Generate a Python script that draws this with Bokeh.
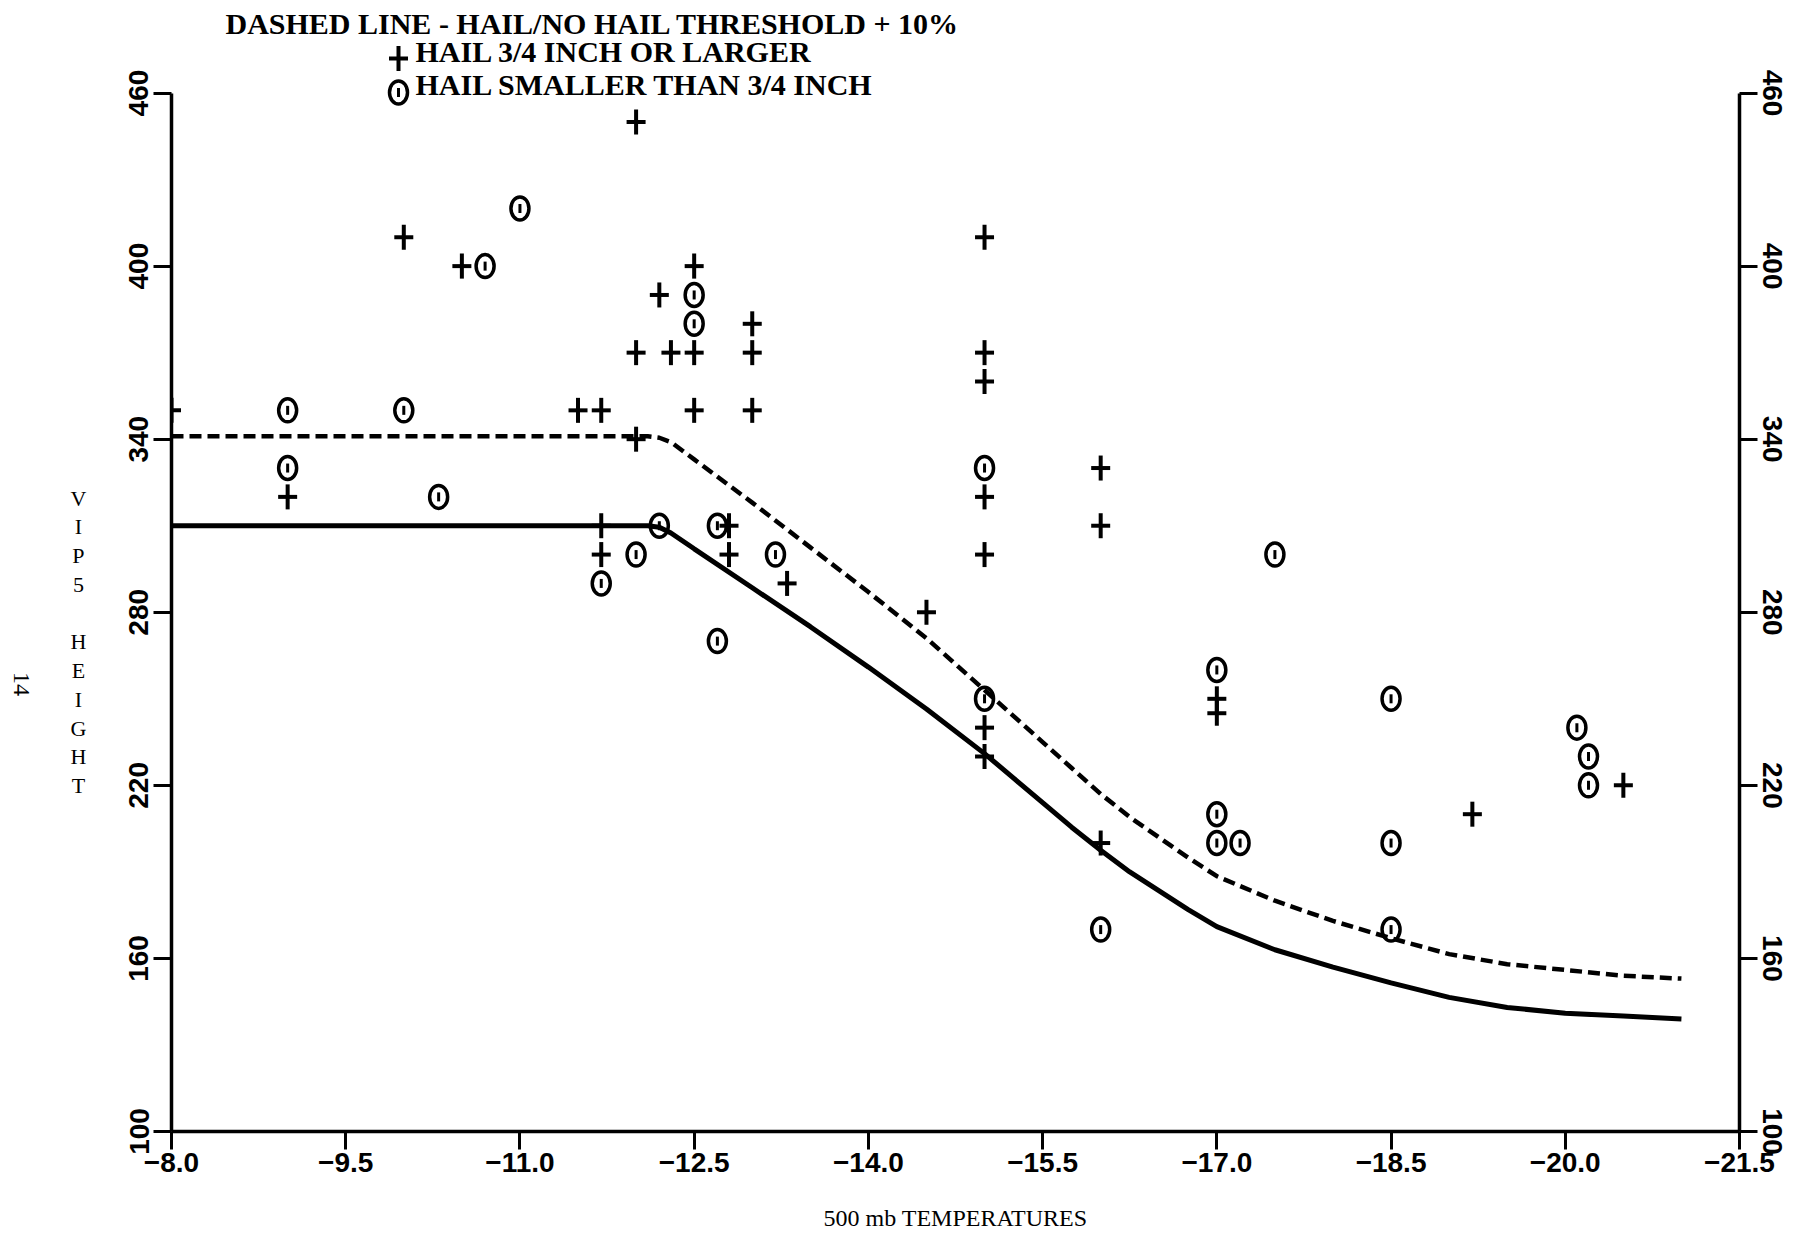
import math
from bokeh.plotting import figure
from bokeh.layouts import row
from bokeh.models import Range1d, LinearAxis, FixedTicker, ColumnDataSource, CustomJSTickFormatter
from bokeh.core.properties import value
from bokeh.embed import file_html
from bokeh.resources import INLINE

# ---------------- data ----------------
x_ticks = [-8.0, -9.5, -11.0, -12.5, -14.0, -15.5, -17.0, -18.5, -20.0, -21.5]
x_tick_labels = ["\u22128.0", "\u22129.5", "\u221211.0", "\u221212.5", "\u221214.0",
                 "\u221215.5", "\u221217.0", "\u221218.5", "\u221220.0", "\u221221.5"]
y_ticks = [100, 160, 220, 280, 340, 400, 460]

# hail 3/4 inch or larger (+)
large_temp = [-8.0, -9.0, -10.0, -10.5, -11.5, -11.7, -11.7, -11.7, -12.0, -12.0,
              -12.0, -12.2, -12.3, -12.5, -12.5, -12.5, -12.8, -12.8, -13.0, -13.0,
              -13.0, -13.3, -14.5, -15.0, -15.0, -15.0, -15.0, -15.0, -15.0, -15.0,
              -16.0, -16.0, -16.0, -17.0, -17.0, -19.2, -20.5]
large_height = [350, 320, 410, 400, 350, 350, 310, 300, 450, 370,
                340, 390, 370, 400, 370, 350, 310, 300, 380, 370,
                350, 290, 280, 410, 370, 360, 320, 300, 240, 230,
                330, 310, 200, 250, 245, 210, 220]

# hail smaller than 3/4 inch (o)
small_temp = [-9.0, -9.0, -10.0, -10.3, -10.7, -11.0, -11.7, -12.0, -12.2, -12.5,
              -12.5, -12.7, -12.7, -13.2, -15.0, -15.0, -16.0, -17.0, -17.0, -17.0,
              -17.2, -17.5, -18.5, -18.5, -18.5, -20.1, -20.2, -20.2]
small_height = [350, 330, 350, 320, 400, 420, 290, 300, 310, 390,
                380, 310, 270, 300, 330, 250, 170, 260, 210, 200,
                200, 300, 250, 200, 170, 240, 230, 220]

# hail / no hail threshold (solid) and threshold + 10% (dashed)
thr_temp = [-8.0, -12.1, -12.2, -12.3, -12.5, -13.0, -13.5, -14.0, -14.5, -15.0,
            -15.25, -15.5, -15.75, -16.0, -16.25, -16.5, -16.75, -17.0, -17.5, -18.0,
            -18.5, -19.0, -19.5, -20.0, -20.5, -21.0]
thr_height = [310, 310, 309.5, 307.5, 302, 288.5, 275, 261, 246.5, 231,
              222.5, 214, 205.5, 197.5, 190, 183.5, 177, 171, 163, 157,
              151.5, 146.5, 143, 141, 140, 139]
thr10_height = [341, 341, 340.5, 339, 333, 318, 302.5, 287, 271, 253,
                244, 235, 226, 217, 209, 202, 195, 188.5, 180, 173,
                167, 161.5, 158, 156, 154, 153]

# ---------------- layout ----------------
W, H = 1809, 1233
SIDE = 100                      # width of the left strip holding the vertical caption
FL, FR, FT, FB = 171, 1739, 6, 1132
X0, X1 = -8.0, -21.5
Y0, Y1 = 100, 490


def xpx(px):
    return X0 + (px - FL) * (X1 - X0) / (FR - FL)


def ypx(py):
    return Y0 + (FB - py) * (Y1 - Y0) / (FB - FT)


p = figure(width=W - SIDE, height=H, x_range=Range1d(X0, X1), y_range=Range1d(Y0, Y1),
           output_backend="svg", toolbar_location=None,
           min_border_left=FL - SIDE, min_border_right=W - FR,
           min_border_top=FT, min_border_bottom=H - FB)
p.grid.visible = False
p.outline_line_color = None
p.background_fill_color = "white"
p.border_fill_color = "white"

tick_font = "Liberation Sans"

xa = p.xaxis[0]
xa.ticker = FixedTicker(ticks=x_ticks)
xa.formatter = CustomJSTickFormatter(args=dict(tvals=x_ticks, tlabels=x_tick_labels), code="""
for (let i = 0; i < tvals.length; i++) {
  if (Math.abs(tvals[i] - tick) < 1e-6) { return tlabels[i]; }
}
return "";
""")
ya = p.yaxis[0]
ya.ticker = FixedTicker(ticks=y_ticks)
ra = LinearAxis(ticker=FixedTicker(ticks=y_ticks))
p.add_layout(ra, "right")

for ax in (xa, ya, ra):
    ax.major_tick_out = 18
    ax.major_tick_in = 0
    ax.minor_tick_out = 0
    ax.minor_tick_in = 0
    ax.axis_line_width = 3.5
    ax.axis_line_color = "black"
    ax.major_tick_line_width = 3
    ax.major_tick_line_color = "black"
    ax.major_label_text_font = tick_font
    ax.major_label_text_font_style = "bold"
    ax.major_label_text_font_size = "28px"
    ax.major_label_text_color = "black"
    ax.major_label_standoff = 5
for ax in (ya, ra):
    ax.bounds = (100, 460)
    ax.major_label_orientation = "vertical"
xa.major_label_standoff = 3

xa.axis_label = "500 mb TEMPERATURES"
xa.axis_label_text_font = "Liberation Serif"
xa.axis_label_text_font_style = "normal"
xa.axis_label_text_font_size = "24px"
xa.axis_label_text_color = "black"
xa.axis_label_standoff = 30

# threshold curves
p.line(thr_temp, thr_height, line_color="black", line_width=5)
p.line(thr_temp, thr10_height, line_color="black", line_width=4.5, line_dash="12 6")

# markers
src_l = ColumnDataSource(dict(x=large_temp, y=large_height))
src_s = ColumnDataSource(dict(x=small_temp, y=small_height))


def plus_marker(src):
    p.scatter("x", "y", source=src, marker="dash", size=19, line_width=4, line_color="black")
    p.scatter("x", "y", source=src, marker="dash", angle=math.pi / 2, size=25, line_width=4,
              line_color="black")


def ring_marker(src):
    p.ellipse("x", "y", source=src, width=18, height=23, width_units="screen",
              height_units="screen", fill_color=None, line_color="black", line_width=3.5)
    p.scatter("x", "y", source=src, marker="dash", angle=math.pi / 2, size=9, line_width=3,
              line_color="black")


plus_marker(src_l)
ring_marker(src_s)

# legend (drawn as in the original, at the top of the chart)
plus_marker(ColumnDataSource(dict(x=[xpx(398)], y=[ypx(58)])))
ring_marker(ColumnDataSource(dict(x=[xpx(398)], y=[ypx(92)])))

legend_texts = ["DASHED LINE - HAIL/NO HAIL THRESHOLD + 10%",
                "HAIL 3/4 INCH OR LARGER",
                "HAIL SMALLER THAN 3/4 INCH"]
p.text(x=[xpx(225), xpx(415), xpx(415)], y=[ypx(23), ypx(51), ypx(84)], text=legend_texts,
       text_font=value("Liberation Serif"), text_font_style="bold", text_font_size="30px",
       text_color="black", text_align="left", text_baseline="middle")

# left strip with the vertical caption and page number
# (its frame is aligned with the main frame: page rows FT..FB)
side = figure(width=SIDE, height=H, x_range=Range1d(0, SIDE), y_range=Range1d(FB, FT),
              output_backend="svg", toolbar_location=None, min_border=0,
              min_border_top=FT, min_border_bottom=H - FB,
              x_axis_location=None, y_axis_location=None)
side.grid.visible = False
side.outline_line_color = None
side.background_fill_color = "white"
side.border_fill_color = "white"
side.text(x=[78], y=[642], text=["V\nI\nP\n5\n\nH\nE\nI\nG\nH\nT"],
          text_font=value("Liberation Serif"), text_font_size="22px", text_color="black",
          text_align="center", text_baseline="middle", text_line_height=1.15)
side.text(x=[21], y=[684], text=["14"], angle=-math.pi / 2,
          text_font=value("Liberation Serif"), text_font_size="24px", text_color="black",
          text_align="center", text_baseline="middle")

layout = row(side, p, spacing=0)
open("out.html", "w").write(file_html(layout, INLINE))
